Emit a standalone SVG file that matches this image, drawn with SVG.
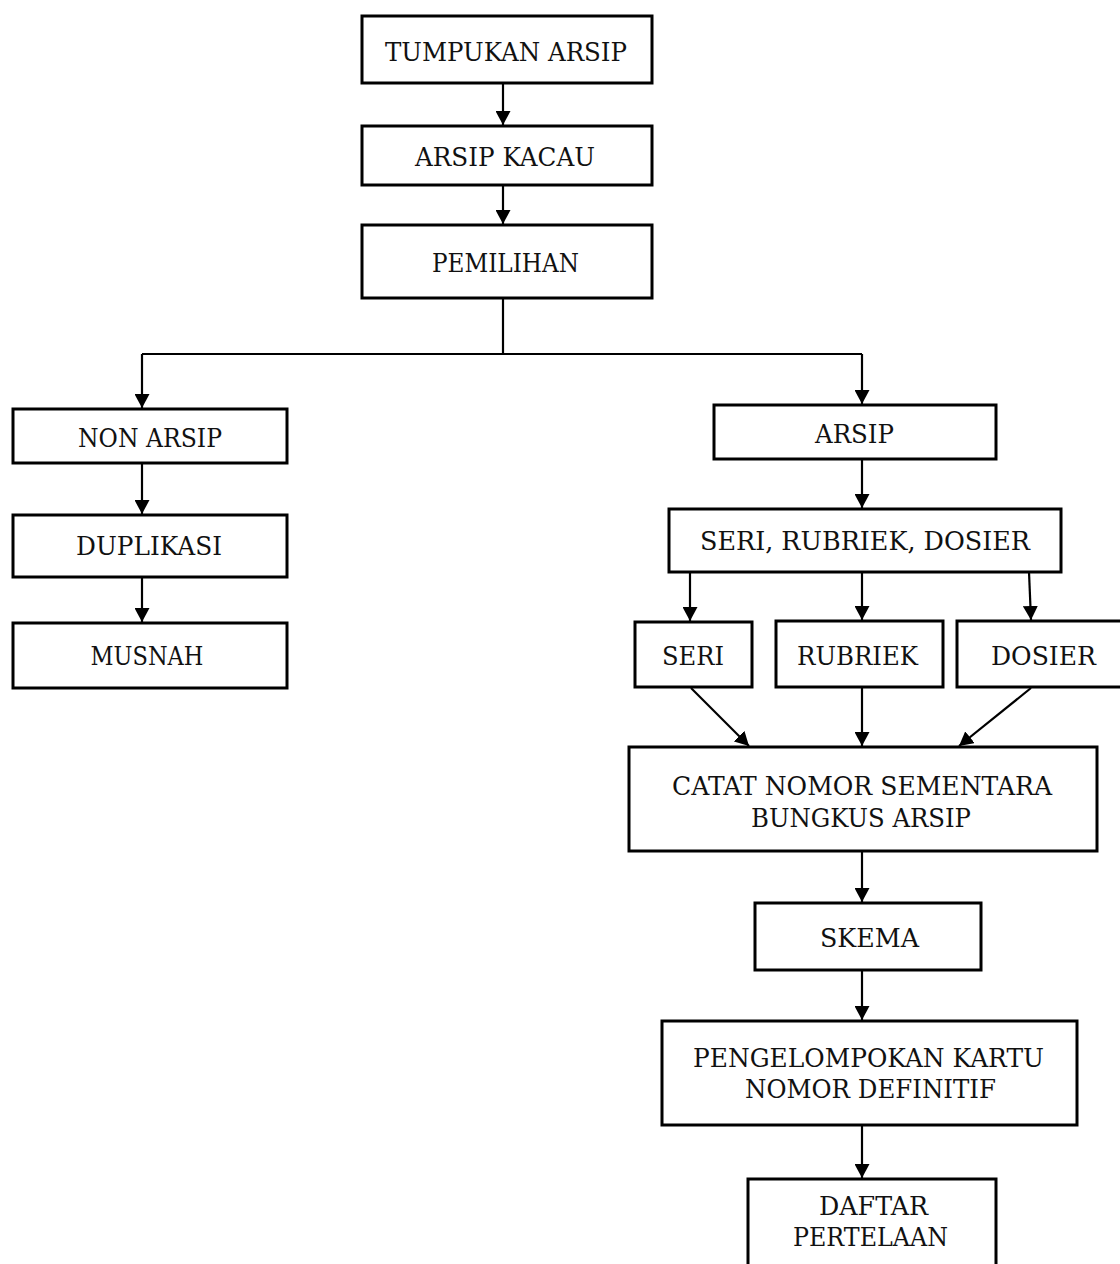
<svg xmlns="http://www.w3.org/2000/svg" width="1120" height="1264" viewBox="0 0 1120 1264">
<style>
.box{fill:#fff;stroke:#000;stroke-width:3}
.t{font-family:"DejaVu Serif","Liberation Serif",serif;font-size:26px;fill:#111;text-anchor:middle}
.c{fill:none;stroke:#000;stroke-width:2.2}
</style>
<defs>
<marker id="ah" markerUnits="userSpaceOnUse" markerWidth="15" markerHeight="15" refX="14" refY="7.5" orient="auto" viewBox="0 0 15 15">
<path d="M0,0 L14,7.5 L0,15 Z" fill="#000"/>
</marker>
</defs>
<rect width="1120" height="1264" fill="#fff"/>
<g id="connectors">
<line class="c" x1="503" y1="83" x2="503" y2="125" marker-end="url(#ah)"/>
<line class="c" x1="503" y1="185" x2="503" y2="224" marker-end="url(#ah)"/>
<polyline class="c" points="503,298 503,354"/>
<polyline class="c" points="142,354 862,354"/>
<line class="c" x1="142" y1="354" x2="142" y2="408" marker-end="url(#ah)"/>
<line class="c" x1="862" y1="354" x2="862" y2="404" marker-end="url(#ah)"/>
<line class="c" x1="142" y1="463" x2="142" y2="514" marker-end="url(#ah)"/>
<line class="c" x1="142" y1="577" x2="142" y2="622" marker-end="url(#ah)"/>
<line class="c" x1="862" y1="459" x2="862" y2="508" marker-end="url(#ah)"/>
<line class="c" x1="690" y1="572" x2="690" y2="621" marker-end="url(#ah)"/>
<line class="c" x1="862" y1="572" x2="862" y2="620" marker-end="url(#ah)"/>
<line class="c" x1="1029" y1="572" x2="1031" y2="620" marker-end="url(#ah)"/>
<line class="c" x1="691" y1="688" x2="749" y2="746" marker-end="url(#ah)"/>
<line class="c" x1="862" y1="688" x2="862" y2="746" marker-end="url(#ah)"/>
<line class="c" x1="1031" y1="688" x2="959" y2="746" marker-end="url(#ah)"/>
<line class="c" x1="862" y1="851" x2="862" y2="902" marker-end="url(#ah)"/>
<line class="c" x1="862" y1="970" x2="862" y2="1020" marker-end="url(#ah)"/>
<line class="c" x1="862" y1="1125" x2="862" y2="1178" marker-end="url(#ah)"/>
</g>
<g id="n-tumpukan"><rect class="box" x="362" y="16" width="290" height="67"/><text class="t" x="506" y="61" textLength="242" lengthAdjust="spacingAndGlyphs">TUMPUKAN ARSIP</text></g>
<g id="n-kacau"><rect class="box" x="362" y="126" width="290" height="59"/><text class="t" x="505" y="166" textLength="180" lengthAdjust="spacingAndGlyphs">ARSIP KACAU</text></g>
<g id="n-pemilihan"><rect class="box" x="362" y="225" width="290" height="73"/><text class="t" x="505.5" y="272" textLength="147" lengthAdjust="spacingAndGlyphs">PEMILIHAN</text></g>
<g id="n-nonarsip"><rect class="box" x="13" y="409" width="274" height="54"/><text class="t" x="150" y="447" textLength="144" lengthAdjust="spacingAndGlyphs">NON ARSIP</text></g>
<g id="n-duplikasi"><rect class="box" x="13" y="515" width="274" height="62"/><text class="t" x="149" y="555" textLength="146" lengthAdjust="spacingAndGlyphs">DUPLIKASI</text></g>
<g id="n-musnah"><rect class="box" x="13" y="623" width="274" height="65"/><text class="t" x="147" y="665" textLength="113" lengthAdjust="spacingAndGlyphs">MUSNAH</text></g>
<g id="n-arsip"><rect class="box" x="714" y="405" width="282" height="54"/><text class="t" x="854.5" y="443" textLength="79" lengthAdjust="spacingAndGlyphs">ARSIP</text></g>
<g id="n-srd"><rect class="box" x="669" y="509" width="392" height="63"/><text class="t" x="865" y="550" textLength="330" lengthAdjust="spacingAndGlyphs">SERI, RUBRIEK, DOSIER</text></g>
<g id="n-seri"><rect class="box" x="635" y="622" width="117" height="65"/><text class="t" x="693" y="665" textLength="62" lengthAdjust="spacingAndGlyphs">SERI</text></g>
<g id="n-rubriek"><rect class="box" x="776" y="621" width="167" height="66"/><text class="t" x="857.5" y="665" textLength="121" lengthAdjust="spacingAndGlyphs">RUBRIEK</text></g>
<g id="n-dosier"><rect class="box" x="957" y="621" width="170" height="66"/><text class="t" x="1043.5" y="665" textLength="105" lengthAdjust="spacingAndGlyphs">DOSIER</text></g>
<g id="n-catat"><rect class="box" x="629" y="747" width="468" height="104"/><text class="t" x="862" y="795" textLength="380" lengthAdjust="spacingAndGlyphs">CATAT NOMOR SEMENTARA</text><text class="t" x="861" y="827" textLength="220" lengthAdjust="spacingAndGlyphs">BUNGKUS ARSIP</text></g>
<g id="n-skema"><rect class="box" x="755" y="903" width="226" height="67"/><text class="t" x="869.5" y="947" textLength="99" lengthAdjust="spacingAndGlyphs">SKEMA</text></g>
<g id="n-pengelompokan"><rect class="box" x="662" y="1021" width="415" height="104"/><text class="t" x="868.5" y="1067" textLength="351" lengthAdjust="spacingAndGlyphs">PENGELOMPOKAN KARTU</text><text class="t" x="870.5" y="1098" textLength="251" lengthAdjust="spacingAndGlyphs">NOMOR DEFINITIF</text></g>
<g id="n-daftar"><rect class="box" x="748" y="1179" width="248" height="100"/><text class="t" x="873.5" y="1215" textLength="109" lengthAdjust="spacingAndGlyphs">DAFTAR</text><text class="t" x="870.5" y="1246" textLength="155" lengthAdjust="spacingAndGlyphs">PERTELAAN</text></g>
</svg>
